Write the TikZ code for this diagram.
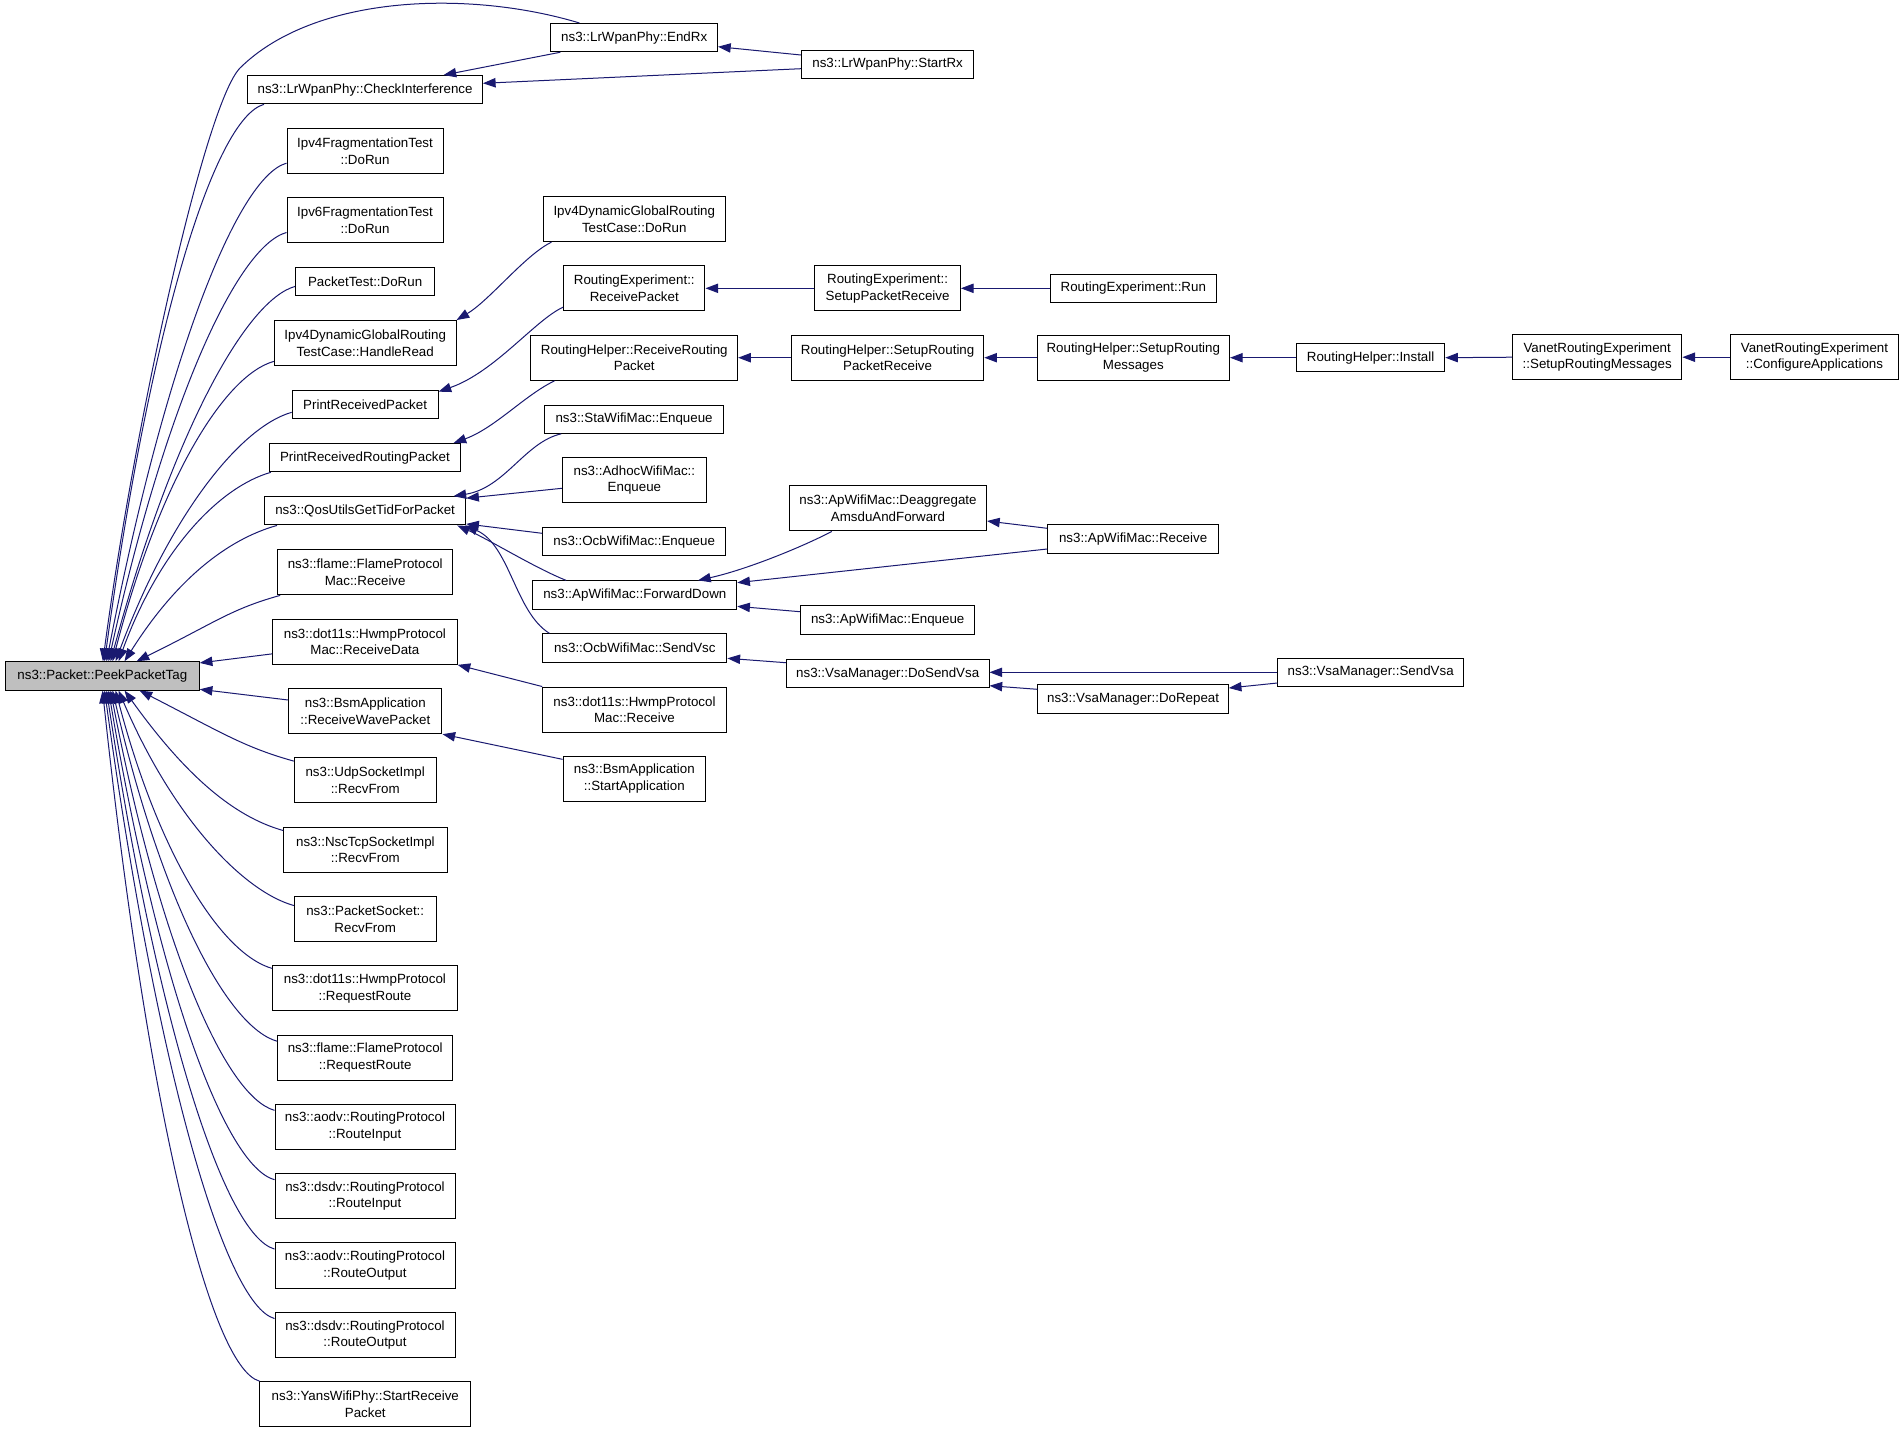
\documentclass[tikz,border=0pt]{standalone}
\usepackage{fontspec}
\setmainfont{Liberation Sans}
\usetikzlibrary{arrows.meta,calc}
\definecolor{edgeblue}{HTML}{191970}
\definecolor{rootgray}{HTML}{BFBFBF}
\begin{document}
\begin{tikzpicture}[x=0.75pt,y=-0.75pt,
  box/.style={draw=black, line width=0.75pt, fill=white, inner sep=0pt, align=center, font=\fontsize{10}{12.5}\selectfont},
  bone/.style={box, minimum height=21.2pt},
  btwo/.style={box, minimum height=34pt},
  conn/.style={draw=edgeblue, line width=0.75pt, -{Triangle[length=9.5pt,width=7pt]}},
  fanU/.style={to path={.. controls ($(\tikztostart)+(-50,14)$) and ($(\tikztotarget)!0.6!(\tikztostart)+(#1,0)$) .. (\tikztotarget)}},
  fanU/.default=-50,
  fanD/.style={to path={.. controls ($(\tikztostart)+(-50,-14)$) and ($(\tikztotarget)!0.6!(\tikztostart)+(#1,0)$) .. (\tikztotarget)}},
  fanD/.default=-50
]
\path[use as bounding box, fill=white] (0,0) rectangle (1904,1432);

% ---- column 0/1
\node[bone, fill=rootgray, minimum width=145.4pt] (peek) at (102.3,675.9) {ns3::Packet::PeekPacketTag};
\node[bone, minimum width=125pt] (endrx) at (634.2,37.6) {ns3::LrWpanPhy::EndRx};
\node[bone, minimum width=129.2pt] (startrx) at (887.6,64.5) {ns3::LrWpanPhy::StartRx};
\node[bone, minimum width=176pt] (checkint) at (365.1,89.7) {ns3::LrWpanPhy::CheckInterference};
\node[btwo, minimum width=117pt] (ipv4frag) at (365,151) {Ipv4FragmentationTest\\::DoRun};
\node[btwo, minimum width=117pt] (ipv6frag) at (365,220.3) {Ipv6FragmentationTest\\::DoRun};
\node[bone, minimum width=104.4pt] (packettest) at (365.1,281.5) {PacketTest::DoRun};
\node[btwo, minimum width=136.3pt] (handleread) at (365.2,343.2) {Ipv4DynamicGlobalRouting\\TestCase::HandleRead};
\node[bone, minimum width=109.4pt] (printrp) at (365.1,404.3) {PrintReceivedPacket};
\node[bone, minimum width=143.3pt] (printrrp) at (364.9,457.7) {PrintReceivedRoutingPacket};
\node[bone, minimum width=150.9pt] (qos) at (365.1,510.8) {ns3::QosUtilsGetTidForPacket};
\node[btwo, minimum width=131.3pt] (flamemac) at (365.2,572.2) {ns3::flame::FlameProtocol\\Mac::Receive};
\node[btwo, minimum width=138.3pt] (hwmprd) at (364.9,641.7) {ns3::dot11s::HwmpProtocol\\Mac::ReceiveData};
\node[btwo, minimum width=115pt] (bsmrwp) at (365.3,711) {ns3::BsmApplication\\::ReceiveWavePacket};
\node[btwo, minimum width=106.3pt] (udp) at (365.2,780.3) {ns3::UdpSocketImpl\\::RecvFrom};
\node[btwo, minimum width=122.5pt] (nsc) at (365.4,849.7) {ns3::NscTcpSocketImpl\\::RecvFrom};
\node[btwo, minimum width=106.3pt] (pktsock) at (365.2,919) {ns3::PacketSocket::\\RecvFrom};
\node[btwo, minimum width=138.3pt] (hwmprr) at (364.9,988.3) {ns3::dot11s::HwmpProtocol\\::RequestRoute};
\node[btwo, minimum width=131.3pt] (flamerr) at (365.2,1057.7) {ns3::flame::FlameProtocol\\::RequestRoute};
\node[btwo, minimum width=135pt] (aodvri) at (365,1126.8) {ns3::aodv::RoutingProtocol\\::RouteInput};
\node[btwo, minimum width=135pt] (dsdvri) at (365,1196.2) {ns3::dsdv::RoutingProtocol\\::RouteInput};
\node[btwo, minimum width=135pt] (aodvro) at (365,1265.5) {ns3::aodv::RoutingProtocol\\::RouteOutput};
\node[btwo, minimum width=135pt] (dsdvro) at (365,1335) {ns3::dsdv::RoutingProtocol\\::RouteOutput};
\node[btwo, minimum width=158pt] (yans) at (365.3,1404.3) {ns3::YansWifiPhy::StartReceive\\Packet};

% ---- column 2
\node[btwo, minimum width=136.4pt] (dgrdorun) at (634.3,219) {Ipv4DynamicGlobalRouting\\TestCase::DoRun};
\node[btwo, minimum width=106pt] (rexprp) at (634.3,288.3) {RoutingExperiment::\\ReceivePacket};
\node[btwo, minimum width=155pt] (rhrrp) at (634.3,357.7) {RoutingHelper::ReceiveRouting\\Packet};
\node[bone, minimum width=134pt] (sta) at (634.1,419.2) {ns3::StaWifiMac::Enqueue};
\node[btwo, minimum width=108pt] (adhoc) at (634.4,480.2) {ns3::AdhocWifiMac::\\Enqueue};
\node[bone, minimum width=137.3pt] (ocbenq) at (634.2,541.7) {ns3::OcbWifiMac::Enqueue};
\node[bone, minimum width=152.9pt] (fwddown) at (634.8,595) {ns3::ApWifiMac::ForwardDown};
\node[bone, minimum width=138.2pt] (sendvsc) at (634.8,648) {ns3::OcbWifiMac::SendVsc};
\node[btwo, minimum width=137.7pt] (hwmprecv) at (634.5,709.7) {ns3::dot11s::HwmpProtocol\\Mac::Receive};
\node[btwo, minimum width=106.9pt] (bsmstart) at (634.3,778.8) {ns3::BsmApplication\\::StartApplication};

% ---- column 3
\node[btwo, minimum width=109.2pt] (setuppr) at (887.6,288.3) {RoutingExperiment::\\SetupPacketReceive};
\node[btwo, minimum width=144.3pt] (setuprpr) at (887.6,357.7) {RoutingHelper::SetupRouting\\PacketReceive};
\node[btwo, minimum width=147.8pt] (deagg) at (888,508.3) {ns3::ApWifiMac::Deaggregate\\AmsduAndForward};
\node[bone, minimum width=130.9pt] (apenq) at (887.7,620) {ns3::ApWifiMac::Enqueue};
\node[bone, minimum width=152pt] (dosendvsa) at (887.7,673.7) {ns3::VsaManager::DoSendVsa};

% ---- column 4
\node[bone, minimum width=124.3pt] (rexprun) at (1133.3,288.3) {RoutingExperiment::Run};
\node[btwo, minimum width=144.4pt] (setuprm) at (1133.3,357.7) {RoutingHelper::SetupRouting\\Messages};
\node[bone, minimum width=128.1pt] (aprecv) at (1133.1,539) {ns3::ApWifiMac::Receive};
\node[bone, minimum width=142.8pt] (dorepeat) at (1133.1,699) {ns3::VsaManager::DoRepeat};

% ---- columns 5-7
\node[bone, minimum width=111.2pt] (install) at (1370.6,357.7) {RoutingHelper::Install};
\node[bone, minimum width=139.1pt] (sendvsa) at (1370.7,672.3) {ns3::VsaManager::SendVsa};
\node[btwo, minimum width=127pt] (vanetsrm) at (1597.2,357.2) {VanetRoutingExperiment\\::SetupRoutingMessages};
\node[btwo, minimum width=125.6pt] (vanetca) at (1814.5,357.2) {VanetRoutingExperiment\\::ConfigureApplications};

% ---- edges into PeekPacketTag from above
\draw[conn] ($(endrx.north west)+(29,0)$) .. controls (470,-10) and (315,-6) .. (240,68) .. controls (205,104) and (135,420) .. ($(peek.north west)+(98,0)$);
\draw[conn] ($(checkint.south west)+(16.7,0)$) to[fanU] ($(peek.north west)+(99.7,0)$);
\draw[conn] ($(ipv4frag.south west)+(0,-11)$) to[fanU] ($(peek.north west)+(101.7,0)$);
\draw[conn] ($(ipv6frag.south west)+(0,-11)$) to[fanU] ($(peek.north west)+(103.7,0)$);
\draw[conn] ($(packettest.south west)+(0,-9.7)$) to[fanU] ($(peek.north west)+(105.7,0)$);
\draw[conn] ($(handleread.south west)+(0,-5)$) to[fanU] ($(peek.north west)+(107.7,0)$);
\draw[conn] ($(printrp.south west)+(0,-6.6)$) to[fanU] ($(peek.north west)+(110.7,0)$);
\draw[conn] ($(printrrp.south west)+(2,0)$) to[fanU] ($(peek.north west)+(113.7,0)$);
\draw[conn] ($(qos.south west)+(13,0)$) to[fanU=-40] ($(peek.north west)+(119.7,0)$);
\draw[conn] ($(flamemac.south west)+(3,0)$) to[fanU=-6] ($(peek.north west)+(131.7,0)$);
\draw[conn] ($(hwmprd.south west)+(0,-11)$) -- ($(peek.east)+(0,-13)$);
\draw[conn] ($(bsmrwp.west)+(0,-11)$) -- ($(peek.east)+(0,13.4)$);

% ---- edges into PeekPacketTag from below
\draw[conn] ($(udp.north west)+(0,4)$) to[fanD=-10] ($(peek.south west)+(134.7,0)$);
\draw[conn] ($(nsc.north west)+(0,4)$) to[fanD=-35] ($(peek.south west)+(119.7,0)$);
\draw[conn] ($(pktsock.north west)+(0,9.7)$) to[fanD] ($(peek.south west)+(113.7,0)$);
\draw[conn] ($(hwmprr.north west)+(0,3.3)$) to[fanD] ($(peek.south west)+(110.7,0)$);
\draw[conn] ($(flamerr.north west)+(0,6.7)$) to[fanD] ($(peek.south west)+(107.7,0)$);
\draw[conn] ($(aodvri.north west)+(0,6.7)$) to[fanD] ($(peek.south west)+(105.7,0)$);
\draw[conn] ($(dsdvri.north west)+(0,6.7)$) to[fanD] ($(peek.south west)+(103.7,0)$);
\draw[conn] ($(aodvro.north west)+(0,6.7)$) to[fanD] ($(peek.south west)+(101.7,0)$);
\draw[conn] ($(dsdvro.north west)+(0,6.7)$) to[fanD] ($(peek.south west)+(99.7,0)$);
\draw[conn] (yans.north west) to[fanD] ($(peek.south west)+(97.7,0)$);

% ---- LrWpan edges
\draw[conn] ($(endrx.south west)+(10,0)$) -- ($(checkint.north east)+(-39.4,0)$);
\draw[conn] ($(startrx.west)+(0,4.2)$) -- ($(checkint.east)+(0,-6.4)$);
\draw[conn] ($(startrx.west)+(0,-9.5)$) -- ($(endrx.east)+(0,9.1)$);

% ---- routing edges
\draw[conn] ($(dgrdorun.south west)+(8.6,0)$) .. controls (525,255) and (490,300) .. (handleread.north east);
\draw[conn] ($(rexprp.south west)+(0,-4.3)$) .. controls (535,320) and (495,372) .. ($(printrp.north east)+(0,2)$);
\draw[conn] ($(rhrrp.south west)+(24,0)$) .. controls (525,395) and (495,428) .. ($(printrrp.north east)+(-7.4,0)$);
\draw[conn] (setuppr.west) -- (rexprp.east);
\draw[conn] (rexprun.west) -- (setuppr.east);
\draw[conn] (setuprpr.west) -- (rhrrp.east);
\draw[conn] (setuprm.west) -- (setuprpr.east);
\draw[conn] (install.west) -- (setuprm.east);
\draw[conn] (vanetsrm.west) -- (install.east);
\draw[conn] (vanetca.west) -- (vanetsrm.east);

% ---- QosUtils edges
\draw[conn] ($(sta.south west)+(16.9,0)$) .. controls (525,442) and (505,488) .. ($(qos.north east)+(-12.7,0)$);
\draw[conn] ($(adhoc.west)+(0,8.1)$) -- ($(qos.north east)+(0,2)$);
\draw[conn] ($(ocbenq.west)+(0,-8.4)$) -- ($(qos.south east)+(0,-1.5)$);
\draw[conn] ($(fwddown.north west)+(33.8,0)$) .. controls (535,568) and (490,540) .. ($(qos.south east)+(-9,0)$);
\draw[conn] ($(sendvsc.north west)+(7.3,0)$) .. controls (515,612) and (510,545) .. ($(qos.south east)+(-1,0)$);

% ---- ApWifiMac / Vsa edges
\draw[conn] ($(deagg.south west)+(42.8,0)$) .. controls (800,548) and (745,570) .. ($(fwddown.north east)+(-39.2,0)$);
\draw[conn] ($(aprecv.west)+(0,10)$) -- ($(fwddown.north east)+(0,2.3)$);
\draw[conn] ($(apenq.west)+(0,-8.3)$) -- ($(fwddown.south east)+(0,-3.3)$);
\draw[conn] ($(aprecv.west)+(0,-10.7)$) -- ($(deagg.east)+(0,12.7)$);
\draw[conn] ($(dosendvsa.west)+(0,-11)$) -- ($(sendvsc.east)+(0,10.3)$);
\draw[conn] (sendvsa.west) -- (sendvsa.west -| dosendvsa.east);
\draw[conn] ($(dorepeat.west)+(0,-9.7)$) -- ($(dosendvsa.east)+(0,12)$);
\draw[conn] ($(sendvsa.west)+(0,10.7)$) -- ($(dorepeat.east)+(0,-11)$);
\draw[conn] (hwmprecv.north west) -- (hwmprd.south east);
\draw[conn] ($(bsmstart.north west)+(0,3.7)$) -- (bsmrwp.south east);
\end{tikzpicture}
\end{document}
